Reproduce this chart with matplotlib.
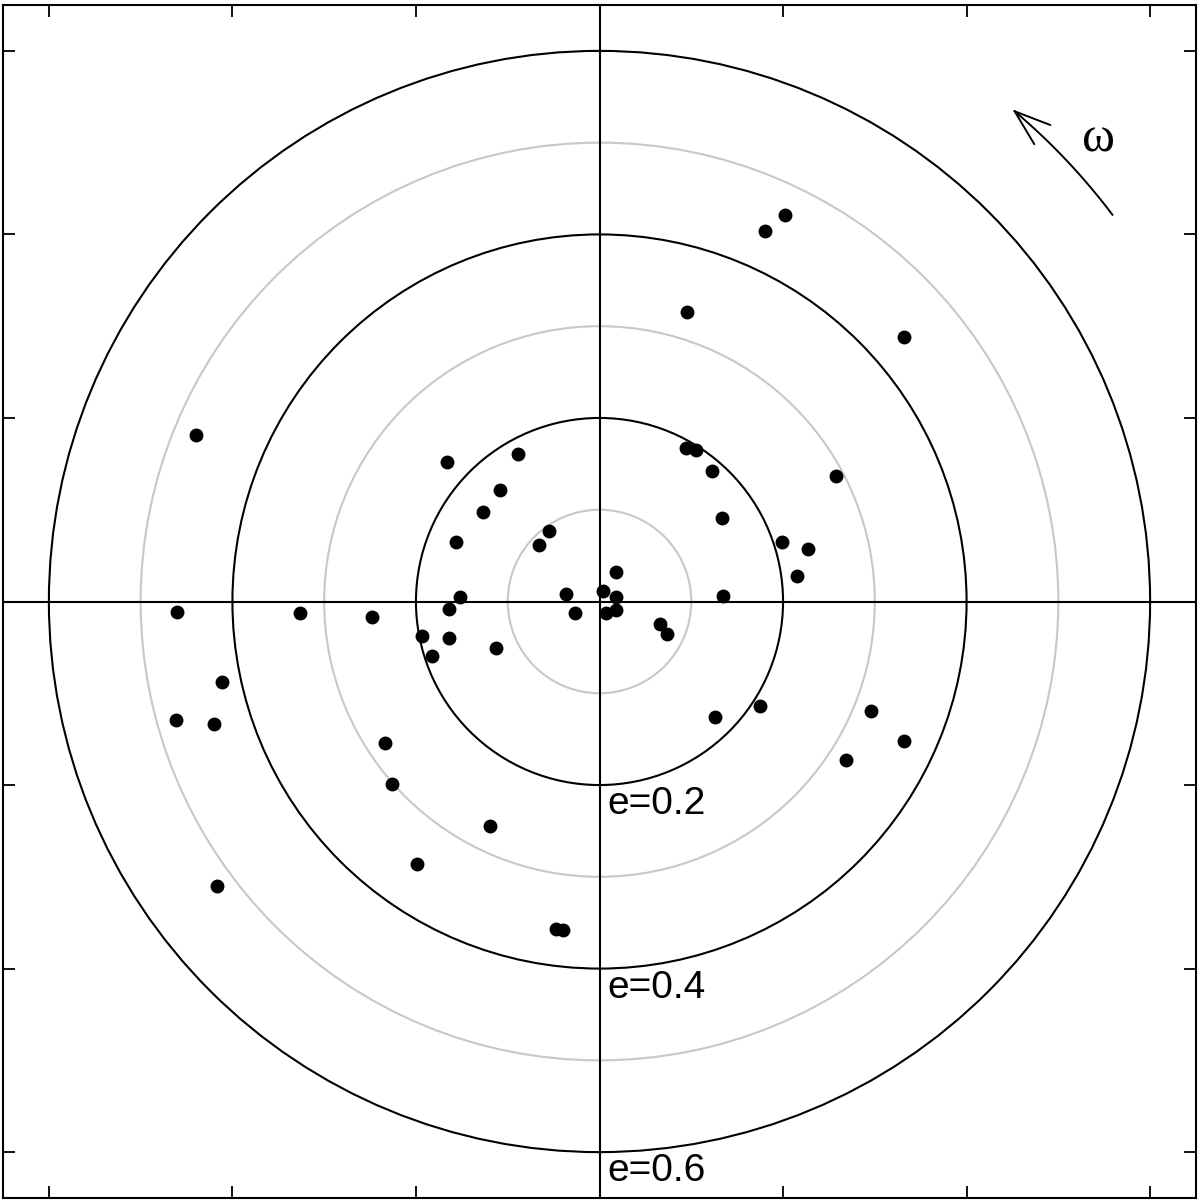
import numpy as np
import matplotlib
matplotlib.use("Agg")
import matplotlib.pyplot as plt
from matplotlib.patches import Circle, FancyArrowPatch
from matplotlib.path import Path

# e*cos(omega), e*sin(omega) for each system
ex = [-0.1666, -0.0884, -0.1088, -0.1265, -0.1560, -0.0545, -0.0662, 0.0182,
      -0.1520, -0.1640, -0.0368, 0.0040, 0.0175, -0.0265, 0.0069, 0.0182,
      -0.1938, -0.1644, -0.1124, -0.1829, 0.0946, 0.1055, 0.1229, 0.1334,
      0.2582, 0.1985, 0.2269, 0.2152, 0.1349, 0.0655, 0.0739, -0.4393,
      -0.4600, -0.3269, -0.2476, -0.4109, -0.4618, -0.4197, -0.2338, -0.2266,
      -0.1197, -0.1985, -0.4167, -0.0472, -0.0400, 0.1262, 0.1753, 0.2956,
      0.3313, 0.2684, 0.2026, 0.1808, 0.0957, 0.3320]
ey = [0.1523, 0.1604, 0.1211, 0.0974, 0.0647, 0.0764, 0.0611, 0.0320,
      0.0047, -0.0087, 0.0083, 0.0109, 0.0047, -0.0124, -0.0124, -0.0098,
      -0.0375, -0.0397, -0.0509, -0.0593, 0.1672, 0.1654, 0.1421, 0.0905,
      0.1364, 0.0650, 0.0574, 0.0276, 0.0055, -0.0240, -0.0357, 0.1811,
      -0.0117, -0.0120, -0.0164, -0.0877, -0.1292, -0.1335, -0.1542, -0.1993,
      -0.2448, -0.2858, -0.3098, -0.3564, -0.3578, -0.1259, -0.1139, -0.1197,
      -0.1524, -0.1731, 0.4211, 0.4036, 0.3159, 0.2880]

major_radii = [0.2, 0.4, 0.6]
minor_radii = [0.1, 0.3, 0.5]
radius_labels = ["e=0.2", "e=0.4", "e=0.6"]
ticks = [-0.6, -0.4, -0.2, 0.0, 0.2, 0.4, 0.6]
lim = 0.65

fig = plt.figure(figsize=(12, 12.03), dpi=100)
ax = fig.add_axes([3 / 1200, 5 / 1203, 1193 / 1200, 1193 / 1203])
ax.set_xlim(-lim, lim)
ax.set_ylim(-lim, lim)

for r in minor_radii:
    ax.add_patch(Circle((0, 0), r, fill=False, ec="#c8c8c8", lw=1.5, zorder=1))
for r in major_radii:
    ax.add_patch(Circle((0, 0), r, fill=False, ec="black", lw=1.5, zorder=2))

ax.axhline(0, color="black", lw=1.5, zorder=2)
ax.axvline(0, color="black", lw=1.5, zorder=2)

ax.scatter(ex, ey, s=100, color="black", zorder=5, linewidths=0)

for r, lab in zip(major_radii, radius_labels):
    ax.text(0.009, -r - 0.032, lab, ha="left", va="baseline",
            fontsize=28, family="Liberation Sans", zorder=6)

# omega direction arrow
th = np.radians(np.linspace(37, 50, 60))
arc = np.column_stack([0.70 * np.cos(th), 0.70 * np.sin(th)])
arrow = FancyArrowPatch(path=Path(arc), arrowstyle="->,head_length=26,head_width=9",
                        mutation_scale=1, lw=1.4, color="black", zorder=6)
ax.add_patch(arrow)
ax.text(0.5438, 0.5032, "ω", ha="center", va="center", fontsize=36,
        family=["Liberation Serif", "DejaVu Serif"])

ax.set_xticks(ticks)
ax.set_yticks(ticks)
ax.tick_params(direction="in", length=8.6, width=1.3, top=True, right=True,
               labelbottom=False, labelleft=False)
for s in ax.spines.values():
    s.set_linewidth(1.5)

fig.savefig("out.png", dpi=100)
